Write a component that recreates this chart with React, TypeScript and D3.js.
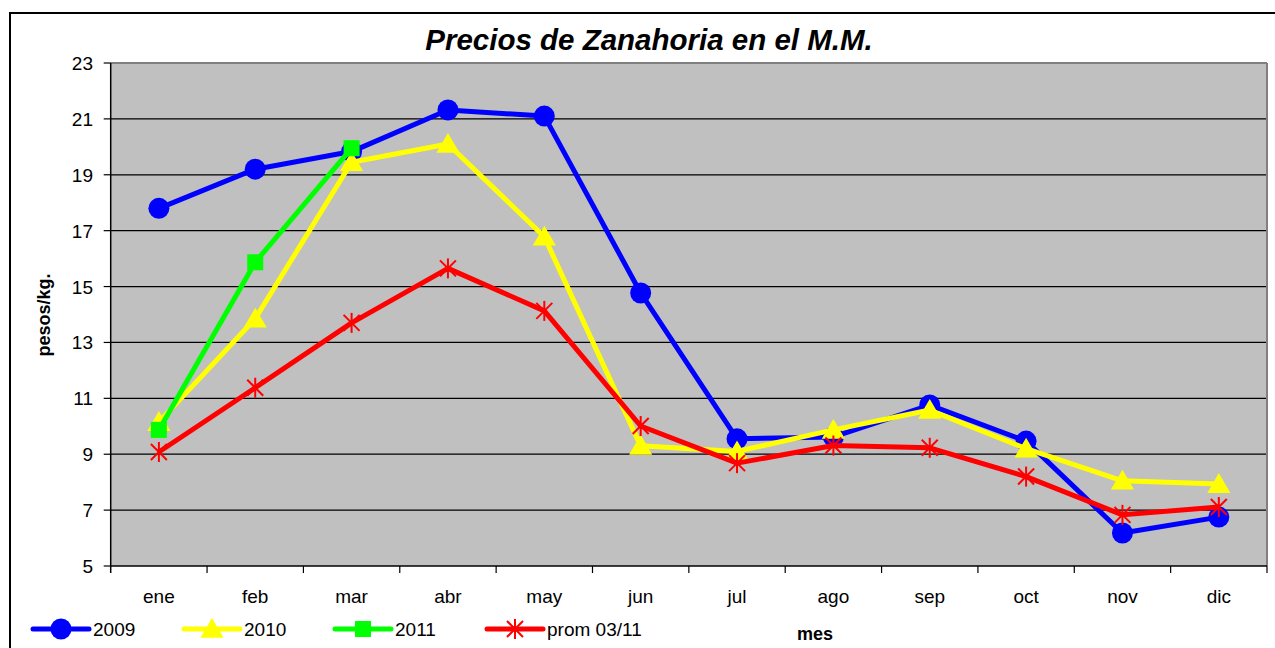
import React from "react";
import * as d3 from "d3";

const months = ["ene", "feb", "mar", "abr", "may", "jun", "jul", "ago", "sep", "oct", "nov", "dic"];
const yTicks = [5, 7, 9, 11, 13, 15, 17, 19, 21, 23];

const s2009 = [17.8, 19.2, 19.83, 21.32, 21.1, 14.77, 9.55, 9.62, 10.76, 9.47, 6.18, 6.75];
const s2010 = [10.15, 13.85, 19.45, 20.1, 16.78, 9.3, 9.1, 9.87, 10.58, 9.2, 8.05, 7.93];
const s2011 = [9.87, 15.87, 19.95];
const sProm = [9.08, 11.38, 13.7, 15.65, 14.13, 10.01, 8.68, 9.31, 9.23, 8.2, 6.83, 7.11];

const W = 1275;
const H = 648;
const left = 110.7;
const right = 1267;
const top = 63;
const bottom = 566;

const App = () => {
  const x = d3.scaleBand().domain(months).range([left, right]);
  const y = d3.scaleLinear().domain([5, 23]).range([bottom, top]);
  const cx = (i: number) => (x(months[i]) as number) + x.bandwidth() / 2;
  const line = d3
    .line<number>()
    .x((d, i) => cx(i))
    .y(d => y(d));

  const font = "'Liberation Sans', Arial, sans-serif";

  const triangle = (px: number, py: number, r: number) =>
    `M${px},${py - r} L${px + r * 1.05},${py + r * 0.8} L${px - r * 1.05},${py + r * 0.8} Z`;

  const asterisk = (px: number, py: number, r: number) => (
    <g stroke="#FF0000" strokeWidth={2}>
      <line x1={px - r} y1={py - r} x2={px + r} y2={py + r} />
      <line x1={px - r} y1={py + r} x2={px + r} y2={py - r} />
      <line x1={px} y1={py - r * 1.25} x2={px} y2={py + r * 1.25} />
    </g>
  );

  const series = [
    { name: "2009", data: s2009, color: "#0000FF", mark: "circle" },
    { name: "2010", data: s2010, color: "#FFFF00", mark: "triangle" },
    { name: "2011", data: s2011, color: "#00FF00", mark: "square" },
    { name: "prom 03/11", data: sProm, color: "#FF0000", mark: "star" },
  ];

  const marker = (mark: string, color: string, px: number, py: number, key?: any) => {
    if (mark === "circle") return <circle key={key} cx={px} cy={py} r={10.5} fill={color} />;
    if (mark === "triangle") return <path key={key} d={triangle(px, py, 11)} fill={color} />;
    if (mark === "square") return <rect key={key} x={px - 8} y={py - 8} width={16} height={16} fill={color} />;
    return <g key={key}>{asterisk(px, py, 8)}</g>;
  };

  const legendX = [33, 184, 335, 487];

  return (
    <div style={{ position: "absolute", left: 0, top: 0 }}>
      <svg width={W} height={H} style={{ display: "block", background: "#fff" }}>
        <rect x={10} y={13} width={W + 20} height={H + 20} fill="#fff" stroke="#000" strokeWidth={2} />
        <text x={649} y={50} textAnchor="middle" fontFamily={font} fontSize={29.5} fontWeight="bold" fontStyle="italic">
          Precios de Zanahoria en el M.M.
        </text>

        <rect x={left} y={top} width={right - left} height={bottom - top} fill="#C0C0C0" />
        {yTicks.slice(1).map(t => (
          <line key={t} x1={left} x2={right} y1={y(t)} y2={y(t)} stroke="#000" strokeWidth={1.2} />
        ))}
        <line x1={left} x2={right} y1={top} y2={top} stroke="#808080" strokeWidth={2} />
        <line x1={right} x2={right} y1={top} y2={bottom} stroke="#808080" strokeWidth={2} />
        <line x1={left} x2={left} y1={top} y2={bottom + 7} stroke="#000" strokeWidth={1.5} />
        <line x1={left} x2={right} y1={bottom} y2={bottom} stroke="#000" strokeWidth={1.5} />

        {yTicks.map(t => (
          <g key={t}>
            <line x1={left - 7} x2={left} y1={y(t)} y2={y(t)} stroke="#000" strokeWidth={1.2} />
            <text x={93} y={y(t) + 7} textAnchor="end" fontFamily={font} fontSize={19}>
              {t}
            </text>
          </g>
        ))}
        {months.map((m, i) => (
          <g key={m}>
            <line
              x1={(x(m) as number) + x.bandwidth()}
              x2={(x(m) as number) + x.bandwidth()}
              y1={bottom}
              y2={bottom + 7}
              stroke="#000"
              strokeWidth={1.2}
            />
            <text x={cx(i)} y={603} textAnchor="middle" fontFamily={font} fontSize={19}>
              {m}
            </text>
          </g>
        ))}

        <text
          transform="translate(50,315) rotate(-90)"
          textAnchor="middle"
          fontFamily={font}
          fontSize={18}
          fontWeight="bold"
        >
          pesos/kg.
        </text>
        <text x={815} y={640} textAnchor="middle" fontFamily={font} fontSize={18} fontWeight="bold">
          mes
        </text>

        {series.map(s => (
          <g key={s.name}>
            <path d={line(s.data) as string} fill="none" stroke={s.color} strokeWidth={5} strokeLinejoin="round" />
            {s.data.map((v, i) => marker(s.mark, s.color, cx(i), y(v), i))}
          </g>
        ))}

        {series.map((s, i) => (
          <g key={s.name}>
            <line x1={legendX[i]} x2={legendX[i] + 56} y1={629} y2={629} stroke={s.color} strokeWidth={5} strokeLinecap="round" />
            {marker(s.mark, s.color, legendX[i] + 28, 629)}
            <text x={legendX[i] + 60} y={636} fontFamily={font} fontSize={19}>
              {s.name}
            </text>
          </g>
        ))}
      </svg>
    </div>
  );
};

export default App;
